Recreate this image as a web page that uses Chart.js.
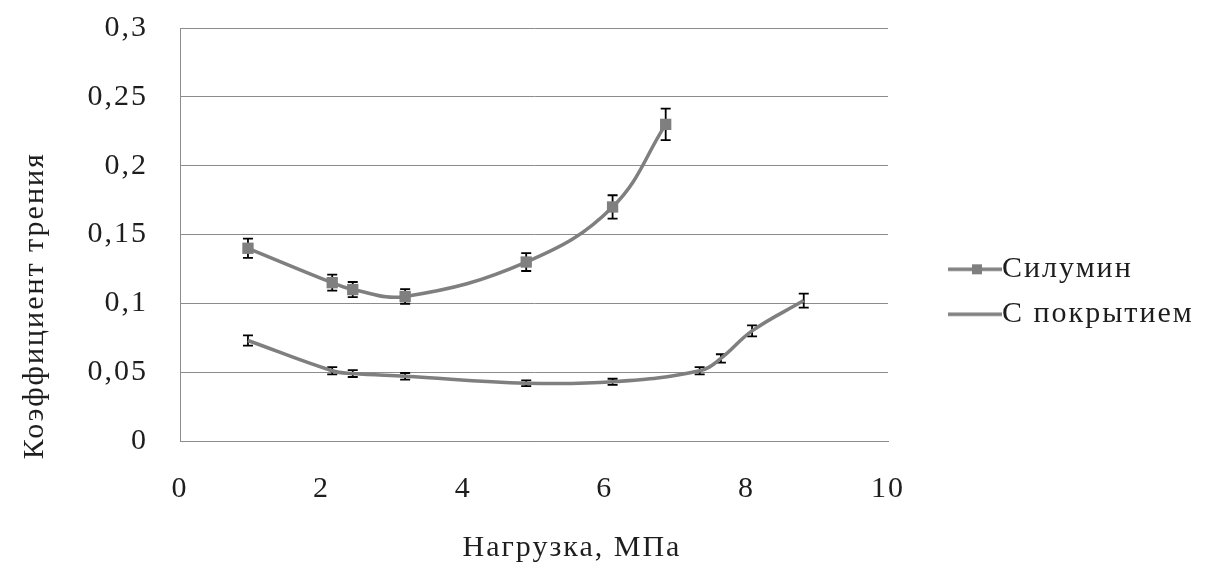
<!DOCTYPE html>
<html>
<head>
<meta charset="utf-8">
<script src="https://cdn.jsdelivr.net/npm/chart.js@4/dist/chart.umd.min.js"></script>
<style>
  html, body { margin: 0; padding: 0; background: #ffffff; }
  #wrap { width: 1206px; height: 568px; position: relative; }
</style>
</head>
<body>
<div id="wrap"><canvas id="c"></canvas></div>
<script>
// ---- data ----
const seriesNames = ['Силумин', 'С покрытием'];
const pressureSil = [0.96, 2.15, 2.44, 3.18, 4.89, 6.11, 6.86];
const frictionSil = [0.140, 0.115, 0.110, 0.105, 0.130, 0.170, 0.230];
const errorSil = [0.007, 0.0058, 0.0055, 0.0053, 0.0065, 0.0085, 0.0115];
const pressureCoat = [0.96, 2.15, 2.44, 3.18, 4.89, 6.11, 7.34, 7.64, 8.08, 8.81];
const frictionCoat = [0.073, 0.051, 0.049, 0.047, 0.042, 0.043, 0.051, 0.060, 0.080, 0.102];
const errorCoat = [0.0037, 0.0026, 0.0025, 0.0024, 0.0021, 0.0022, 0.0026, 0.003, 0.004, 0.0051];
const xTickValues = [0, 2, 4, 6, 8, 10];
const yTickLabels = ['0', '0,05', '0,1', '0,15', '0,2', '0,25', '0,3'];
const xTitle = 'Нагрузка, МПа';
const yTitle = 'Коэффициент трения';

const FONT = "'Liberation Serif', 'Times New Roman', serif";
const TEXT = '#1e1e1e';
const LINE = '#7f7f7f';
const GRID = '#8c8c8c';
const SPACING = '2px';
// the reference's axis titles sit off-centre; blank padding shifts them
const X_TITLE_LEAD = ' '.repeat(8);
const Y_TITLE_TRAIL = ' '.repeat(15);

function pts(xs, ys) { return xs.map((x, i) => ({x: x, y: ys[i]})); }

// legend icons (line with / without square marker)
function makeIcon(withMarker) {
  const c = document.createElement('canvas');
  c.width = 114; c.height = 14;
  const g = c.getContext('2d');
  g.strokeStyle = LINE; g.lineWidth = 3.5;
  g.beginPath(); g.moveTo(60, 7); g.lineTo(114, 7); g.stroke();
  if (withMarker) { g.fillStyle = LINE; g.fillRect(84, 2, 10, 10); }
  return c;
}
const legendIcons = [makeIcon(true), makeIcon(false)];

const spacingPlugin = {
  id: 'spacing',
  beforeUpdate(ch) { ch.ctx.letterSpacing = SPACING; },
  beforeLayout(ch) {
    ch.ctx.letterSpacing = SPACING;
    const lg = ch.legend;
    if (lg && !lg._wPatched) {
      const orig = lg.fit.bind(lg);
      lg.fit = function () { orig(); this.width = 318; };
      lg._wPatched = true;
    }
  },
  beforeDraw(ch) { ch.ctx.letterSpacing = SPACING; }
};

const errorBarPlugin = {
  id: 'errbars',
  beforeDatasetsDraw(ch) {
    const ctx = ch.ctx;
    const xs = ch.scales.x, ys = ch.scales.y;
    const errs = [errorSil, errorCoat];
    ctx.save();
    ctx.strokeStyle = '#000000';
    ctx.lineWidth = 1.8;
    ch.data.datasets.forEach((ds, di) => {
      ds.data.forEach((p, i) => {
        const e = errs[di][i];
        const px = xs.getPixelForValue(p.x);
        const pt = ys.getPixelForValue(p.y + e);
        const pb = ys.getPixelForValue(p.y - e);
        ctx.beginPath();
        ctx.moveTo(px, pt); ctx.lineTo(px, pb);
        ctx.moveTo(px - 5, pt); ctx.lineTo(px + 5, pt);
        ctx.moveTo(px - 5, pb); ctx.lineTo(px + 5, pb);
        ctx.stroke();
      });
    });
    ctx.restore();
  }
};

new Chart(document.getElementById('c'), {
  type: 'line',
  data: {
    datasets: [
      {
        label: seriesNames[0],
        data: pts(pressureSil, frictionSil),
        borderColor: LINE, backgroundColor: LINE,
        borderWidth: 3.5, tension: 0.4,
        pointStyle: 'rect', pointRadius: 8, pointBackgroundColor: LINE,
        pointBorderWidth: 0, pointHoverRadius: 8
      },
      {
        label: seriesNames[1],
        data: pts(pressureCoat, frictionCoat),
        borderColor: LINE, backgroundColor: LINE,
        borderWidth: 3.5, tension: 0.4,
        pointRadius: 0, pointHoverRadius: 0
      }
    ]
  },
  options: {
    responsive: true,
    maintainAspectRatio: false,
    animation: false,
    layout: { padding: { top: 6, right: 0, bottom: 0, left: 0 } },
    plugins: {
      tooltip: { enabled: false },
      legend: {
        position: 'right',
        align: 'center',
        title: { display: true, text: ' ', font: { family: FONT, size: 8 }, padding: 0 },
        labels: {
          usePointStyle: true,
          pointStyleWidth: 84,
          padding: 15,
          color: TEXT,
          font: { family: FONT, size: 30 },
          generateLabels(chart) {
            const items = Chart.defaults.plugins.legend.labels.generateLabels(chart);
            items.forEach((it, i) => { it.pointStyle = legendIcons[i]; it.fontColor = TEXT; });
            return items;
          }
        }
      }
    },
    scales: {
      x: {
        type: 'linear', min: 0, max: 10,
        afterFit(s) { s.height = 127; },
        afterBuildTicks(s) { s.ticks = xTickValues.map(v => ({value: v})); },
        grid: { display: false, drawTicks: false },
        border: { display: true, color: GRID, width: 1 },
        ticks: { color: TEXT, font: { family: FONT, size: 30 }, padding: 30, maxRotation: 0 },
        title: { display: true, text: X_TITLE_LEAD + xTitle, color: TEXT, font: { family: FONT, size: 30 }, padding: { top: 0, bottom: 2 } }
      },
      y: {
        type: 'linear', min: 0, max: 0.3,
        afterFit(s) { s.width = 180; s.paddingTop = 28; s.paddingBottom = 18; },
        ticks: {
          stepSize: 0.05, color: TEXT, font: { family: FONT, size: 30 }, padding: 32,
          callback: (v, i) => yTickLabels[i]
        },
        grid: { color: GRID, lineWidth: 1, drawTicks: false },
        border: { display: true, color: GRID, width: 1 },
        title: { display: true, text: yTitle + Y_TITLE_TRAIL, color: TEXT, font: { family: FONT, size: 30 }, padding: { top: 17, bottom: 0 } }
      }
    }
  },
  plugins: [spacingPlugin, errorBarPlugin]
});
</script>
</body>
</html>
